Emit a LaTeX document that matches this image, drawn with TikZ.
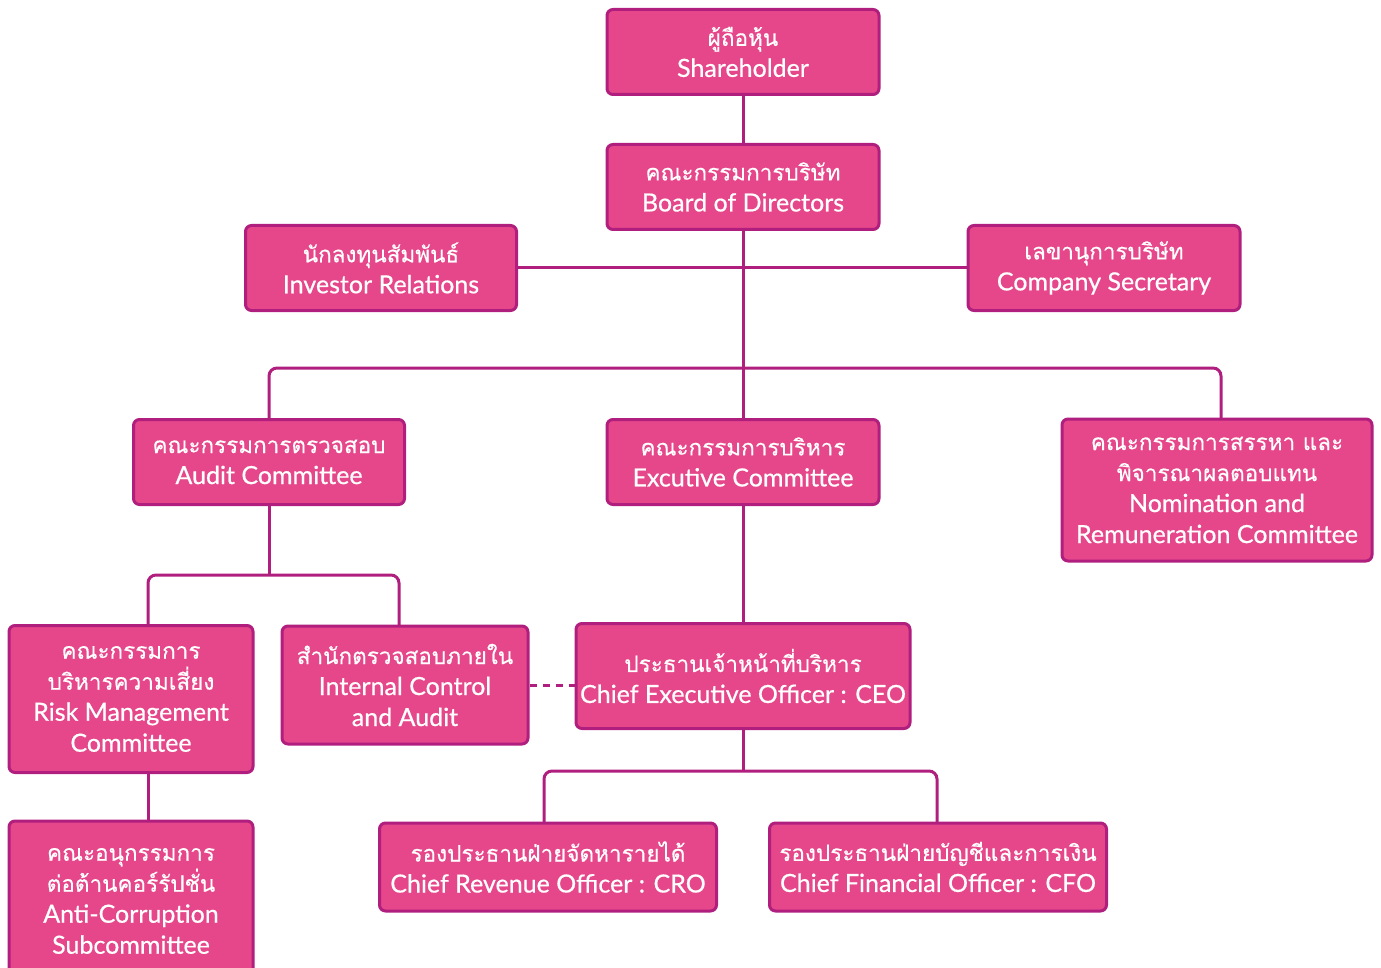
\documentclass[tikz,border=0pt]{standalone}
\usepackage{fontspec}
\setmainfont{Lato}[FakeBold=0.6]
\newfontfamily\thaiface[Script=Thai,FakeBold=0.4]{Loma}
\newcommand{\thl}[1]{{\thaiface\fontsize{22.5}{31}\selectfont #1}}
\usetikzlibrary{calc}
\definecolor{boxfill}{HTML}{E5478A}
\definecolor{boxline}{HTML}{B01F7E}
\tikzset{
  orgbox/.style={draw=boxline, fill=boxfill, line width=3pt, rounded corners=6pt,
    text=white, align=center, inner sep=0pt, font=\fontsize{25}{31}\selectfont},
  link/.style={draw=boxline, line width=3pt},
  buslink/.style={link, rounded corners=8pt},
  dotlink/.style={link, dash pattern=on 7pt off 6pt}
}
\begin{document}
\begin{tikzpicture}[x=1pt,y=-1pt]
\useasboundingbox (0,0) rectangle (1381,968);
\node[orgbox, minimum width=272pt, minimum height=85pt] (sh) at (743,52) {\thl{ผู้ถือหุ้น}\\Shareholder};
\node[orgbox, minimum width=272pt, minimum height=85pt] (bod) at (743,187) {\thl{คณะกรรมการบริษัท}\\Board of Directors};
\node[orgbox, minimum width=271pt, minimum height=85pt] (ir) at (381,268) {\thl{นักลงทุนสัมพันธ์}\\Investor Relations};
\node[orgbox, minimum width=272pt, minimum height=85pt] (cs) at (1104,268) {\thl{เลขานุการบริษัท}\\Company Secretary};
\node[orgbox, minimum width=271pt, minimum height=85pt] (aud) at (269,462) {\thl{คณะกรรมการตรวจสอบ}\\Audit Committee};
\node[orgbox, minimum width=272pt, minimum height=85pt] (exe) at (743,462) {\thl{คณะกรรมการบริหาร}\\Excutive Committee};
\node[orgbox, minimum width=310pt, minimum height=142pt] (nom) at (1217,490) {\thl{คณะกรรมการสรรหา และ}\\\thl{พิจารณาผลตอบแทน}\\Nomination and\\Remuneration Committee};
\node[orgbox, minimum width=244pt, minimum height=147pt] (risk) at (131,699) {\thl{คณะกรรมการ}\\\thl{บริหารความเสี่ยง}\\Risk Management\\Committee};
\node[orgbox, minimum width=246pt, minimum height=118pt] (ica) at (405,685) {\thl{สำนักตรวจสอบภายใน}\\Internal Control\\and Audit};
\node[orgbox, minimum width=334pt, minimum height=105pt] (ceo) at (743,676) {\thl{ประธานเจ้าหน้าที่บริหาร}\\Chief Executive Officer : CEO};
\node[orgbox, minimum width=337pt, minimum height=88pt] (cro) at (548,867) {\thl{รองประธานฝ่ายจัดหารายได้}\\Chief Revenue Officer : CRO};
\node[orgbox, minimum width=337pt, minimum height=88pt] (cfo) at (938,867) {\thl{รองประธานฝ่ายบัญชีและการเงิน}\\Chief Financial Officer : CFO};
\node[orgbox, minimum width=244pt, minimum height=160pt] (acs) at (131,901) {\thl{คณะอนุกรรมการ}\\\thl{ต่อต้านคอร์รัปชั่น}\\Anti-Corruption\\Subcommittee};
% connector helpers
\coordinate (bus1) at (743,368);
\coordinate (audtop) at (269,418);
\coordinate (nomtop) at (1221,418);
\coordinate (bus2) at (269,575);
\coordinate (risktop) at (148,624);
\coordinate (icatop) at (399,625);
\coordinate (riskbot) at (148,774);
\coordinate (acstop) at (148,822);
\coordinate (bus3) at (743,771);
\coordinate (crotop) at (544,822);
\coordinate (cfotop) at (937,822);
% connectors
\path[link] (sh.south) -- (bod.north);
\path[link] (bod.south) -- (exe.north);
\path[link] (ir.east) -- (cs.west);
\path[buslink] (audtop) |- (bus1) -| (nomtop);
\path[link] (aud.south) -- (bus2);
\path[buslink] (risktop) |- (bus2) -| (icatop);
\path[link] (riskbot) -- (acstop);
\path[dotlink] (ica.east) -- (ica.east -| ceo.west);
\path[link] (exe.south) -- (ceo.north);
\path[link] (ceo.south) -- (bus3);
\path[buslink] (crotop) |- (bus3) -| (cfotop);
\end{tikzpicture}
\end{document}
